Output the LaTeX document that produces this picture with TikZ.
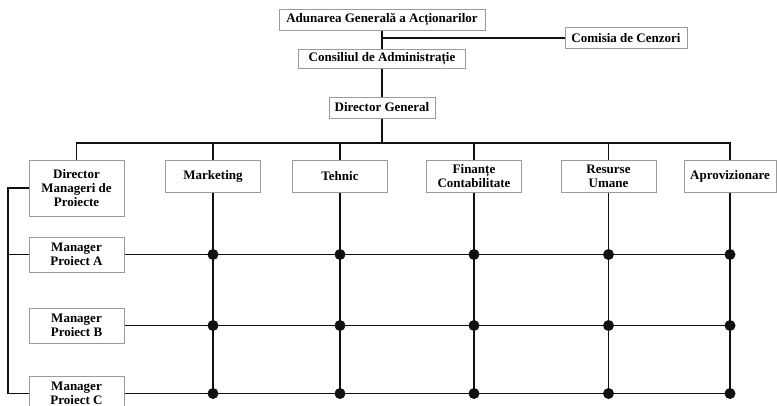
\documentclass[tikz,border=0pt]{standalone}
\usepackage{fontspec}
\setmainfont{Liberation Serif}
\usepackage{xcolor}
\usepackage{tikz}
\usetikzlibrary{positioning,calc}
\definecolor{BoxGray}{HTML}{9A9A9A}
\definecolor{LineDark}{HTML}{111111}

\begin{document}
\begin{tikzpicture}[x=1pt,y=-1pt,
                    every node/.style={font=\fontsize{13}{13.7}\selectfont\bfseries},
                    box/.style={draw=BoxGray,line width=1pt,fill=white,align=center,
                                inner xsep=2pt,inner ysep=2pt},
                    ln/.style={line width=1.8pt,LineDark}]
      \useasboundingbox (0,0) rectangle (777,405);
      \node[box, minimum width=206pt, minimum height=21pt]
        (aga) at (382,20) {Adunarea Generală a Acționarilor};
      \node[box, minimum width=122pt, minimum height=21pt]
        (cc) at (626,38) {Comisia de Cenzori};
      \node[box, minimum width=167pt, minimum height=19pt]
        (ca) at (382,58.5) {Consiliul de Administrație};
      \node[box, minimum width=106pt, minimum height=21pt]
        (dg) at (382,107.5) {Director General};
      \node[box, minimum width=95pt, minimum height=56pt]
        (dmp) at (76.5,188) {Director\\ Manageri de\\ Proiecte};
      \node[box, minimum width=95pt, minimum height=32pt]
        (mk) at (213,176) {Marketing};
      \node[box, minimum width=95pt, minimum height=32pt]
        (th) at (340,176) {Tehnic};
      \node[box, minimum width=95pt, minimum height=32pt]
        (fc) at (474,176) {Finanțe\\ Contabilitate};
      \node[box, minimum width=95pt, minimum height=32pt]
        (ru) at (608.5,176) {Resurse\\ Umane};
      \node[box, minimum width=92pt, minimum height=32pt]
        (ap) at (730,176) {Aprovizionare};
      \node[box, minimum width=95pt, minimum height=35pt]
        (mpa) at (76.5,254.5) {Manager\\ Proiect A};
      \node[box, minimum width=95pt, minimum height=35pt]
        (mpb) at (76.5,325.5) {Manager\\ Proiect B};
      \node[box, minimum width=95pt, minimum height=35pt]
        (mpc) at (76.5,393.5) {Manager\\ Proiect C};
      \coordinate (bus) at (382,143);
      \coordinate (lft) at (8,188);
      \draw[ln](aga.south)--(ca.north); \draw[ln](aga.south |- cc.west)--(cc.west);
      \draw[ln](ca.south)--(dg.north); \draw[ln](dg.south)--(bus);
      \draw[ln](dmp.north)--(dmp.north |- bus)--(ap.north |- bus)--(ap.north);
      \foreach \c in {mk,th,fc,ru} \draw[ln](\c.north)--(\c.north |- bus);
      \draw[ln](dmp.west)--(lft)|-(mpc.west); \draw[ln](mpa.west)--(mpa.west -| lft);
      \foreach \r in {mpa,mpb,mpc} \draw[ln](\r.east)--(\r.east -| ap);
      \foreach \c in {mk,th,fc,ru,ap} {
        \draw[ln](\c.south)--(\c.south |- mpc);
        \foreach \r in {mpa,mpb,mpc} \fill[LineDark](\c |- \r) circle (5.5pt);
      }
    \end{tikzpicture}
\end{document}
